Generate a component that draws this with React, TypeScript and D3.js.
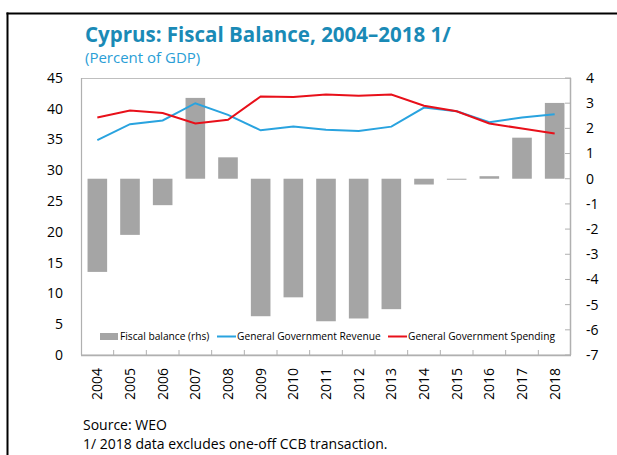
import React from 'react';
import * as d3 from 'd3';

const years = ['2004','2005','2006','2007','2008','2009','2010','2011','2012','2013','2014','2015','2016','2017','2018'];
const fiscalBalance = [-3.70,-2.23,-1.05,3.21,0.85,-5.46,-4.71,-5.66,-5.55,-5.18,-0.23,-0.03,0.10,1.63,3.01];
const revenue = [34.9,37.5,38.1,40.9,39.0,36.5,37.1,36.6,36.4,37.1,40.2,39.6,37.8,38.6,39.1];
const spending = [38.6,39.7,39.3,37.6,38.2,42.0,41.9,42.3,42.1,42.3,40.5,39.6,37.6,36.8,36.0];
const leftTicks = [0,5,10,15,20,25,30,35,40,45];
const rightTicks = [4,3,2,1,0,-1,-2,-3,-4,-5,-6,-7];

const FONT = "'Open Sans', 'Noto Sans', sans-serif";
const W = 617, H = 455;
const L = 81, R = 571, T = 78, B = 355;

export default function App() {
  const x = d3.scaleBand<string>().domain(years).range([L, R]).paddingInner(0.4).paddingOuter(0.2);
  const yL = d3.scaleLinear().domain([0, 45]).range([B, T]);
  const yR = d3.scaleLinear().domain([-7, 4]).range([B, T]);
  const cx = (d: string) => (x(d) as number) + x.bandwidth() / 2;
  const lineGen = d3.line<number>().x((_, i) => cx(years[i])).y(v => yL(v));
  const step = x.step();
  const boundaries = years.slice(1).map(y => (x(y) as number) - (step - x.bandwidth()) / 2);

  return (
    <svg width={W} height={H} style={{ position: 'absolute', left: 0, top: 0, background: '#fff' }} fontFamily={FONT}>
      <rect x={0} y={0} width={W} height={H} fill="#fff" />
      {/* outer frame */}
      <line x1={7.5} x2={7.5} y1={12.5} y2={H} stroke="#000" strokeWidth={2} />
      <line x1={6.5} x2={W} y1={13.5} y2={13.5} stroke="#000" strokeWidth={2} />

      <text x={85} y={42} fontSize={20.5} fontWeight={700} fill="#1a8ab6">Cyprus: Fiscal Balance, 2004–2018 1/</text>
      <text x={85} y={63} fontSize={15} fill="#2a9ed6">(Percent of GDP)</text>

      {/* bars */}
      {fiscalBalance.map((v, i) => (
        <rect key={years[i]} x={x(years[i])} width={x.bandwidth()}
          y={Math.min(yR(v), yR(0))} height={Math.max(Math.abs(yR(v) - yR(0)), 1)} fill="#a5a5a5" />
      ))}

      {/* plot box */}
      <rect x={L + 0.5} y={T + 0.5} width={R - L - 1} height={B - T - 0.5} fill="none" stroke="#bfbfbf" strokeWidth={1} />
      <line x1={L} x2={R} y1={B + 0.5} y2={B + 0.5} stroke="#b0b0b0" strokeWidth={1.5} />
      <line x1={R - 0.5} x2={R - 0.5} y1={T} y2={B} stroke="#b0b0b0" strokeWidth={1.5} />
      <line x1={L + 0.5} x2={L + 0.5} y1={T} y2={B} stroke="#b0b0b0" strokeWidth={1.2} />

      {boundaries.map((bx, i) => (
        <line key={i} x1={bx} x2={bx} y1={B - 5} y2={B} stroke="#b0b0b0" strokeWidth={1} />
      ))}
      {rightTicks.map(t => (
        <line key={t} x1={R - 6} x2={R} y1={yR(t)} y2={yR(t)} stroke="#b0b0b0" strokeWidth={1} />
      ))}

      <path d={lineGen(revenue) || ''} fill="none" stroke="#29a3df" strokeWidth={2} />
      <path d={lineGen(spending) || ''} fill="none" stroke="#e8101a" strokeWidth={2} />

      {/* left axis labels */}
      {leftTicks.map(t => (
        <text key={t} x={63} y={yL(t)} dy="0.35em" textAnchor="end" fontSize={14} fill="#000">{t}</text>
      ))}
      {rightTicks.map(t => (
        <text key={t} x={586} y={yR(t)} dy="0.35em" textAnchor="start" fontSize={14} fill="#000">{t < 0 ? '-' + Math.abs(t) : t}</text>
      ))}
      {years.map(y => (
        <text key={y} transform={`translate(${cx(y) + 5},368) rotate(-90)`} textAnchor="end" fontSize={14} fill="#000">{y}</text>
      ))}

      {/* legend */}
      <rect x={100} y={333} width={18} height={7} fill="#a5a5a5" />
      <text x={120} y={340} fontSize={10.2} fill="#000">Fiscal balance (rhs)</text>
      <line x1={217} x2={236} y1={336.5} y2={336.5} stroke="#29a3df" strokeWidth={2} />
      <text x={237} y={340} fontSize={10.2} fill="#000">General Government Revenue</text>
      <line x1={388} x2={407} y1={336.5} y2={336.5} stroke="#e8101a" strokeWidth={2} />
      <text x={408} y={340} fontSize={10.2} fill="#000">General Government Spending</text>

      <text x={83} y={430} fontSize={14} fill="#000">Source: WEO</text>
      <text x={83} y={449} fontSize={14} fill="#000">1/ 2018 data excludes one-off CCB transaction.</text>
    </svg>
  );
}
